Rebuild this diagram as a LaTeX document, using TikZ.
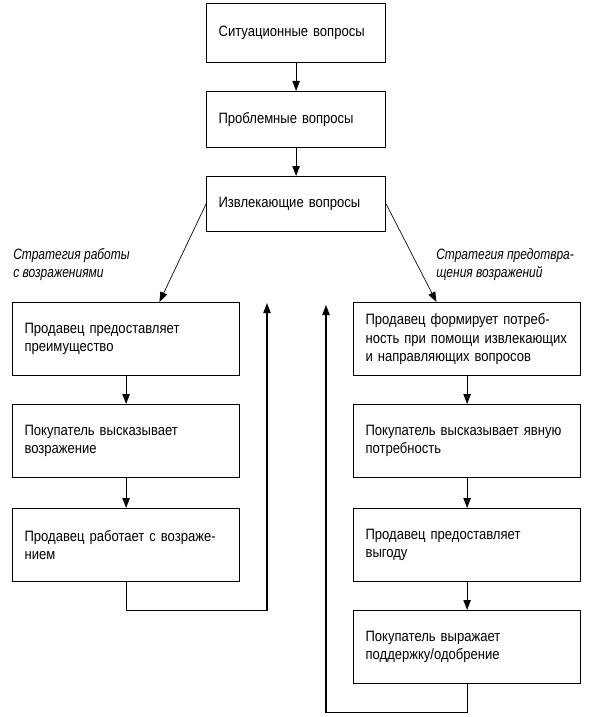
\documentclass[tikz,border=0pt]{standalone}
\usepackage{fontspec}
\setmainfont{Liberation Sans}[FakeStretch=0.87]
\newfontfamily\stratfont{Liberation Sans}[FakeStretch=0.8]
\usetikzlibrary{arrows.meta}

\tikzset{
  box/.style={draw, line width=0.9pt, anchor=north west, inner xsep=9pt, inner ysep=0pt, align=left,
    font=\fontsize{11.25pt}{13.75pt}\selectfont},
  topbox/.style={box, text width=116.25pt},
  sidebox/.style={box, text width=152.25pt, minimum height=54.75pt},
  strat/.style={anchor=north west, inner sep=0pt, align=left, font=\stratfont\fontsize{11.25pt}{13.75pt}\selectfont\itshape},
  arr/.style={-{Triangle[length=7.5pt,width=5.5pt]}, line width=0.9pt},
  thinarr/.style={-{Triangle[length=7.5pt,width=5.5pt]}, line width=0.5pt}
}

\begin{document}
\begin{tikzpicture}[x=0.75pt,y=0.75pt,yscale=-1,xscale=1]
\useasboundingbox (0,0) rectangle (591,717);

% Top column
\node[topbox, minimum height=44.25pt] (sit) at (206,3) {Ситуационные вопросы};
\node[topbox, minimum height=42pt] (prob) at (206,91) {Проблемные вопросы};
\node[topbox, minimum height=41.25pt] (izvl) at (206,176) {Извлекающие вопросы};

% Left column
\node[sidebox] (l1) at (12,302) {Продавец предоставляет\\преимущество};
\node[sidebox] (l2) at (12,404) {Покупатель высказывает\\возражение};
\node[sidebox] (l3) at (12,508) {Продавец работает с возраже-\\нием};

% Right column
\node[sidebox] (r1) at (353,302) {Продавец формирует потреб-\\ность при помощи извлекающих\\и направляющих вопросов};
\node[sidebox] (r2) at (353,404) {Покупатель высказывает явную\\потребность};
\node[sidebox] (r3) at (353,508) {Продавец предоставляет\\выгоду};
\node[sidebox] (r4) at (353,610) {Покупатель выражает\\поддержку/одобрение};

% Text Node
\node[strat] (lstrat) at (13,248) {Стратегия работы\\с возражениями};
% Text Node
\node[strat] (rstrat) at (436,248) {Стратегия предотвра-\\щения возражений};

% return points
\coordinate (lret) at (267,303);
\coordinate (rret) at (326,305);

\draw[arr] (sit) -- (prob);
\draw[arr] (prob) -- (izvl);
\draw[thinarr] (izvl.west) -- ([xshift=25pt]l1.north);
\draw[thinarr] (izvl.east) -- ([xshift=-23pt]r1.north);

\draw[arr] (l1) -- (l2);
\draw[arr] (l2) -- (l3);
\draw[arr] (l3.south) -- ++(0,28) -| (lret);

\draw[arr] (r1) -- (r2);
\draw[arr] (r2) -- (r3);
\draw[arr] (r3) -- (r4);
\draw[arr] (r4.south) -- ++(0,28) -| (rret);

\end{tikzpicture}
\end{document}
